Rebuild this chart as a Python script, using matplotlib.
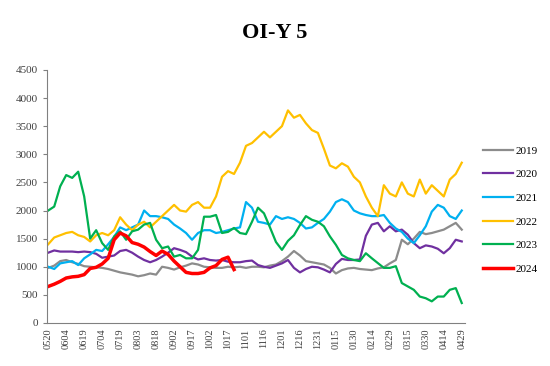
import matplotlib
matplotlib.use('Agg')
import matplotlib.pyplot as plt

# x axis: days counted from 05-20, one reading every 5 days
tick_labels = ['0520', '0604', '0619', '0704', '0719', '0803', '0818', '0902',
               '0917', '1002', '1017', '1101', '1116', '1201', '1216', '1231',
               '0115', '0130', '0214', '0229', '0315', '0330', '0414', '0429']
days = list(range(0, 350, 5))
days_2024 = list(range(0, 160, 5))

y2019 = [980, 1020, 1100, 1120, 1080, 1050, 1010, 1000, 990, 980,
         960, 930, 900, 880, 860, 830, 850, 880, 860, 1000,
         980, 950, 990, 1020, 1060, 1040, 1000, 990, 980, 980,
         1000, 990, 1000, 980, 1000, 1000, 990, 1020, 1040, 1100,
         1180, 1280, 1200, 1100, 1080, 1060, 1040, 980, 880, 940,
         970, 980, 960, 950, 940, 970, 990, 1060, 1120, 1480,
         1400, 1500, 1620, 1580, 1600, 1630, 1660, 1720, 1780, 1660]
y2020 = [1250, 1290, 1270, 1270, 1270, 1260, 1270, 1260, 1230, 1160,
         1180, 1200, 1280, 1300, 1250, 1180, 1120, 1080, 1120, 1180,
         1250, 1330, 1300, 1260, 1180, 1130, 1150, 1120, 1110, 1120,
         1090, 1080, 1080, 1100, 1110, 1030, 1000, 980, 1020, 1060,
         1120, 980, 900, 960, 1000, 990, 950, 900, 1050, 1140,
         1120, 1120, 1130, 1550, 1750, 1780, 1630, 1720, 1630, 1660,
         1570, 1420, 1330, 1380, 1360, 1320, 1240, 1330, 1480, 1450]
y2021 = [1000, 960, 1060, 1080, 1100, 1030, 1150, 1220, 1300, 1280,
         1400, 1530, 1700, 1650, 1700, 1750, 2000, 1900, 1900, 1880,
         1850, 1750, 1680, 1600, 1480, 1600, 1650, 1650, 1600, 1620,
         1650, 1680, 1700, 2150, 2050, 1800, 1780, 1750, 1900, 1850,
         1880, 1850, 1780, 1680, 1700, 1780, 1850, 1980, 2150, 2200,
         2150, 2000, 1950, 1920, 1900, 1900, 1920, 1780, 1680, 1620,
         1500, 1420, 1560, 1720, 1980, 2100, 2050, 1900, 1850, 2000]
y2022 = [1400, 1520, 1560, 1600, 1620, 1560, 1530, 1450, 1560, 1600,
         1560, 1650, 1880, 1750, 1650, 1750, 1800, 1700, 1800, 1900,
         2000, 2100, 2000, 1980, 2100, 2150, 2050, 2050, 2250, 2600,
         2700, 2650, 2850, 3150, 3200, 3300, 3400, 3300, 3400, 3500,
         3780, 3650, 3700, 3550, 3430, 3380, 3100, 2800, 2750, 2840,
         2780, 2600, 2500, 2250, 2050, 1900, 2450, 2300, 2250, 2500,
         2300, 2250, 2550, 2300, 2450, 2350, 2250, 2550, 2650, 2850]
y2023 = [2000, 2070, 2430, 2630, 2580, 2690, 2250, 1500, 1650, 1420,
         1300, 1540, 1630, 1480, 1630, 1660, 1750, 1780, 1480, 1330,
         1360, 1180, 1210, 1150, 1150, 1300, 1890, 1890, 1920, 1600,
         1620, 1690, 1600, 1580, 1800, 2050, 1950, 1700, 1440, 1300,
         1460, 1560, 1740, 1900, 1835, 1800, 1720, 1540, 1390, 1210,
         1150, 1120, 1100, 1240, 1150, 1065, 980, 980, 1010, 710,
         650, 590, 470, 440, 385, 470, 470, 590, 620, 355]
y2024 = [650, 690, 740, 800, 820, 830, 860, 970, 990, 1050,
         1150, 1480, 1600, 1550, 1430, 1400, 1350, 1270, 1200, 1280,
         1220, 1100, 1000, 900, 880, 880, 900, 980, 1020, 1130,
         1170, 950]

series = [
    ('2019', days, y2019, '#8c8c8c', 1.6),
    ('2020', days, y2020, '#7030a0', 1.6),
    ('2021', days, y2021, '#00b0f0', 1.6),
    ('2022', days, y2022, '#ffc000', 1.6),
    ('2023', days, y2023, '#00b050', 1.6),
    ('2024', days_2024, y2024, '#ff0000', 2.5),
]

plt.rcParams['font.family'] = ['Liberation Serif', 'DejaVu Serif']

fig = plt.figure(figsize=(5.5, 3.66), dpi=100)
ax = fig.add_axes([0.0855, 0.1175, 0.7595, 0.6915])

for name, x, y, c, lw in series:
    ax.plot(x, y, color=c, lw=lw, label=name)

ax.set_xlim(-1, 347.5)
ax.set_ylim(0, 4500)
ax.set_yticks(range(0, 5000, 500))
ax.set_xticks(range(0, 15 * len(tick_labels), 15))
ax.set_xticklabels(tick_labels, rotation=90, fontsize=7.5, color='#404040')
ax.tick_params(axis='y', labelsize=8, colors='#404040', length=3, color='#808080')
ax.tick_params(axis='x', length=0, pad=4)
for s in ['top', 'right']:
    ax.spines[s].set_visible(False)
for s in ['left', 'bottom']:
    ax.spines[s].set_color('#808080')

fig.text(0.5, 0.91, 'OI-Y 5', ha='center', va='center', fontsize=16, fontweight='bold')

ax.legend(loc='center left', bbox_to_anchor=(1.02, 0.447), frameon=False,
          fontsize=8, handlelength=2.7, handletextpad=0.2, labelspacing=1.25)

fig.savefig('out.png', dpi=100)
